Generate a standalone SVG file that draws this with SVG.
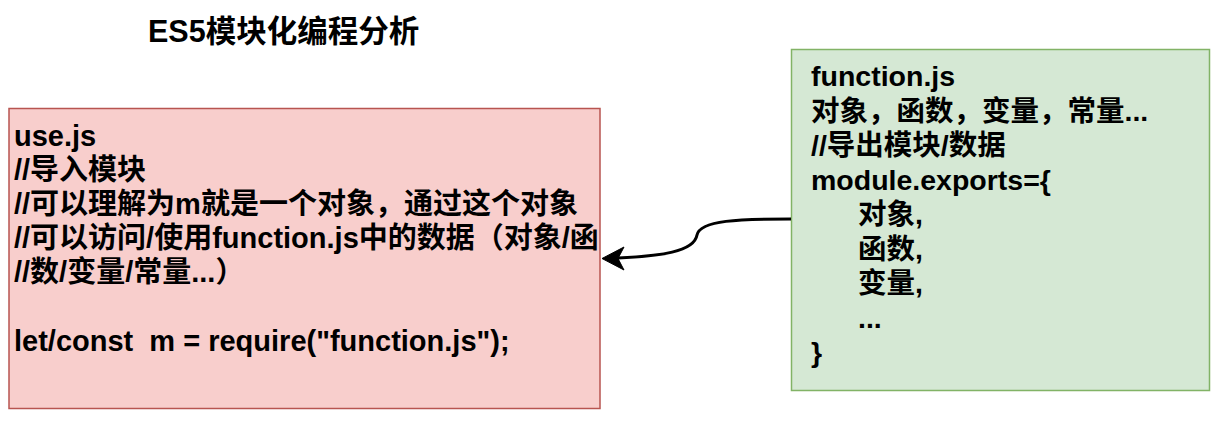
<svg xmlns="http://www.w3.org/2000/svg" width="1226" height="425" viewBox="0 0 1226 425">
<style>
.t{font-family:"Liberation Sans","Noto Sans CJK SC",sans-serif;font-weight:bold;font-size:28.5px;fill:#000}
.l{font-family:"Liberation Sans","Noto Sans CJK SC",sans-serif;font-weight:bold;font-size:29px;fill:#000}
.title{font-family:"Liberation Sans","Noto Sans CJK SC",sans-serif;font-weight:bold;font-size:30.5px;fill:#000}
</style>
<rect width="1226" height="425" fill="#fff"/>
<g id="title"><text class="title" x="148" y="42">ES5模块化编程分析</text></g>
<g id="use-js">
<rect x="9" y="108.5" width="591" height="300" fill="#f8cecc" stroke="#b85450" stroke-width="1.5"/>
<text class="l" x="14" y="146">use.js</text>
<text class="l" x="14" y="180">//导入模块</text>
<text class="l" x="14" y="214">//可以理解为m就是一个对象，通过这个对象</text>
<text class="l" x="14" y="248">//可以访问/使用function.js中的数据（对象/函</text>
<text class="l" x="14" y="282">//数/变量/常量...）</text>
<text class="l" x="14" y="351" xml:space="preserve">let/const  m = require("function.js");</text>
</g>
<g id="function-js">
<rect x="791.5" y="49.5" width="418" height="341" fill="#d5e8d4" stroke="#82b366" stroke-width="1.5"/>
<text class="t" x="811" y="86">function.js</text>
<text class="t" x="811" y="120.5">对象，函数，变量，常量...</text>
<text class="t" x="811" y="155">//导出模块/数据</text>
<text class="t" x="811" y="189.5">module.exports={</text>
<text class="t" x="858" y="224">对象,</text>
<text class="t" x="858" y="258.5">函数,</text>
<text class="t" x="858" y="293">变量,</text>
<text class="t" x="858" y="327.5">...</text>
<text class="t" x="811" y="362">}</text>
</g>
<g id="connectors">
<path d="M791,219 C740,219 700,220 697,235 C694,252 660,256 618,258" fill="none" stroke="#000" stroke-width="3"/>
<polygon points="602,258.5 624,247 618,258.5 624,270" fill="#000" stroke="#000" stroke-width="1" stroke-linejoin="miter"/>
</g>
</svg>
